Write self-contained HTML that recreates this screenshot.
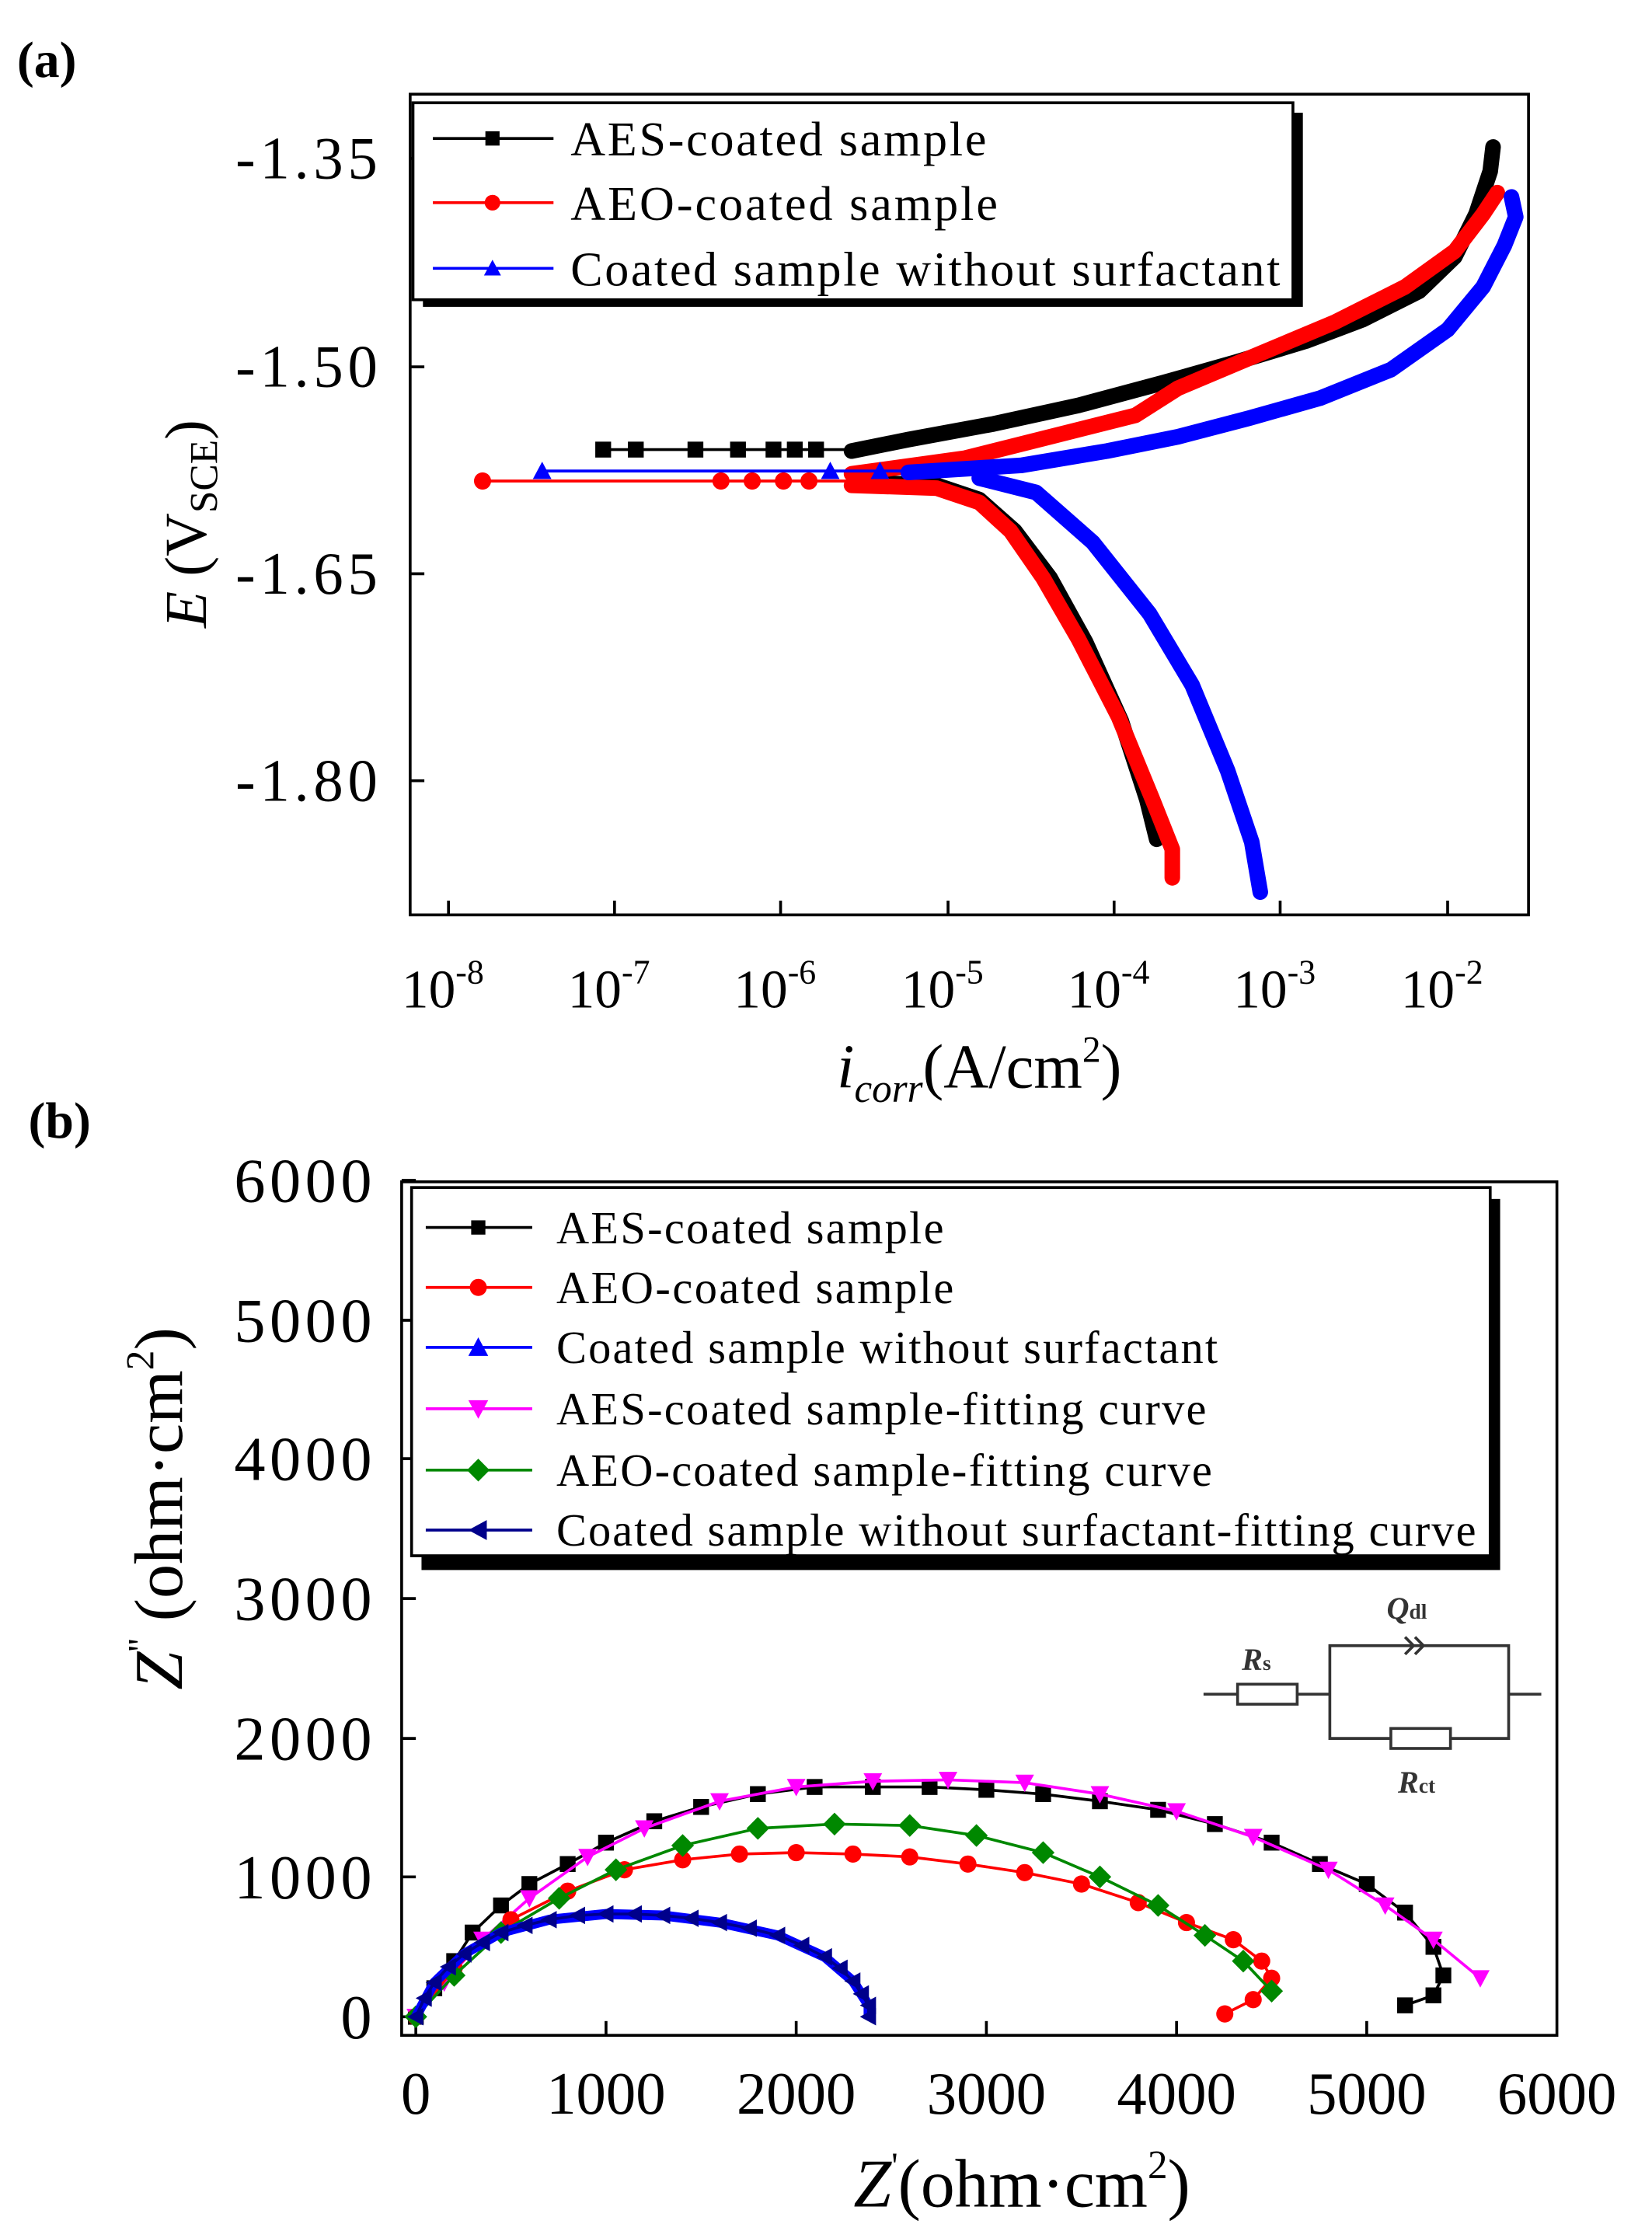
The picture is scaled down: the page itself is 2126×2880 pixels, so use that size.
<!DOCTYPE html>
<html><head><meta charset="utf-8"><style>html,body{margin:0;padding:0;background:#fff}svg{display:block}</style></head>
<body>
<svg width="2126" height="2880" viewBox="0 0 1164 1568" preserveAspectRatio="none" xmlns="http://www.w3.org/2000/svg" font-family="Liberation Serif, serif">
<defs>
<marker id="sq" viewBox="-7 -7 14 14" markerWidth="13" markerHeight="13" markerUnits="userSpaceOnUse"><rect x="-6" y="-6" width="12" height="12" fill="#000"/></marker>
<marker id="ci" viewBox="-7 -7 14 14" markerWidth="13" markerHeight="13" markerUnits="userSpaceOnUse"><circle r="6.5" fill="#f00"/></marker>
<marker id="tr" viewBox="-8 -8 16 16" markerWidth="15" markerHeight="15" markerUnits="userSpaceOnUse"><path d="M0,-7 L7,6 L-7,6Z" fill="#00f"/></marker>
<marker id="itr" viewBox="-8 -8 16 16" markerWidth="15" markerHeight="15" markerUnits="userSpaceOnUse"><path d="M0,7 L7,-6 L-7,-6Z" fill="#f0f"/></marker>
<marker id="di" viewBox="-8 -8 16 16" markerWidth="16" markerHeight="16" markerUnits="userSpaceOnUse"><path d="M0,-8 L8,0 L0,8 L-8,0Z" fill="#080"/></marker>
<marker id="lt" viewBox="-8 -8 16 16" markerWidth="14" markerHeight="14" markerUnits="userSpaceOnUse"><path d="M-7,0 L6,-7 L6,7Z" fill="#00008b"/></marker>
</defs>

<!-- Panel a -->
<text x="12" y="54" font-size="36" font-weight="bold">(a)</text>
<rect x="289" y="66" width="788" height="575" fill="none" stroke="#000" stroke-width="2"/>
<g stroke="#000" stroke-width="2">
<line x1="289" y1="111" x2="299" y2="111"/><line x1="289" y1="257" x2="299" y2="257"/><line x1="289" y1="402" x2="299" y2="402"/><line x1="289" y1="547" x2="299" y2="547"/>
<line x1="316" y1="641" x2="316" y2="631"/><line x1="433" y1="641" x2="433" y2="631"/><line x1="550" y1="641" x2="550" y2="631"/><line x1="668" y1="641" x2="668" y2="631"/><line x1="785" y1="641" x2="785" y2="631"/><line x1="902" y1="641" x2="902" y2="631"/><line x1="1020" y1="641" x2="1020" y2="631"/>
</g>
<g font-size="42" text-anchor="end">
<text x="266" y="125" textLength="100">-1.35</text><text x="266" y="271" textLength="100">-1.50</text><text x="266" y="416" textLength="100">-1.65</text><text x="266" y="561" textLength="100">-1.80</text>
</g>
<g font-size="38" text-anchor="middle">
<text x="312" y="706">10<tspan font-size="24" dy="-17">-8</tspan></text>
<text x="429" y="706">10<tspan font-size="24" dy="-17">-7</tspan></text>
<text x="546" y="706">10<tspan font-size="24" dy="-17">-6</tspan></text>
<text x="664" y="706">10<tspan font-size="24" dy="-17">-5</tspan></text>
<text x="781" y="706">10<tspan font-size="24" dy="-17">-4</tspan></text>
<text x="898" y="706">10<tspan font-size="24" dy="-17">-3</tspan></text>
<text x="1016" y="706">10<tspan font-size="24" dy="-17">-2</tspan></text>
</g>
<text x="690" y="762" font-size="44" text-anchor="middle"><tspan font-style="italic">i</tspan><tspan font-style="italic" font-size="28" dy="10">corr</tspan><tspan dy="-10">(A/cm</tspan><tspan font-size="26" dy="-18">2</tspan><tspan dy="18">)</tspan></text>
<text transform="translate(145,367) rotate(-90)" font-size="42" text-anchor="middle"><tspan font-style="italic">E</tspan> (V<tspan font-size="28" dy="8">SCE</tspan><tspan dy="-8">)</tspan></text>

<!-- curves a -->
<g fill="none" stroke-linejoin="round" stroke-linecap="round">
<polyline stroke="#000" stroke-width="11" points="600,316 640,308 700,297 760,284 820,268 870,254 920,239 960,224 1000,204 1025,180 1040,150 1050,120 1052,103"/>
<polyline stroke="#000" stroke-width="11" points="610,338 660,340 690,350 715,372 740,405 765,450 790,505 808,560 815,588"/>
<polyline stroke="#000" stroke-width="2" points="425,315 610,315"/>
<polyline stroke="#f00" stroke-width="11" points="600,332 680,321 740,306 800,291 830,272 880,251 940,226 990,201 1025,176 1045,150 1055,135"/>
<polyline stroke="#f00" stroke-width="11" points="600,340 660,342 690,352 712,372 735,405 760,448 788,502 812,560 826,595 826,615"/>
<polyline stroke="#f00" stroke-width="2" points="340,337 600,337"/>
<polyline stroke="#00f" stroke-width="11" points="640,331 720,326 780,316 830,306 880,293 930,279 980,259 1020,231 1045,201 1060,172 1068,152 1065,138"/>
<polyline stroke="#00f" stroke-width="11" points="690,335 730,345 770,380 810,430 840,480 865,540 882,590 888,625"/>
<polyline stroke="#00f" stroke-width="2" points="382,330 660,330"/>
</g>
<polyline fill="none" stroke="none" marker-mid="url(#sq)" marker-start="url(#sq)" points="425,315 448,315 490,315 520,315 545,315 560,315 575,315 590,315"/>
<polyline fill="none" stroke="none" marker-mid="url(#ci)" marker-start="url(#ci)" points="340,337 508,337 530,337 552,337 570,337 588,337"/>
<polyline fill="none" stroke="none" marker-mid="url(#tr)" marker-start="url(#tr)" points="382,330 585,330 620,330 640,330"/>

<!-- legend a -->
<rect x="298" y="79" width="620" height="136" fill="#000"/>
<rect x="291" y="72" width="620" height="138" fill="#fff" stroke="#000" stroke-width="2"/>
<line x1="305" y1="97" x2="390" y2="97" stroke="#000" stroke-width="2"/><rect x="342" y="92" width="10" height="10"/>
<line x1="305" y1="142" x2="390" y2="142" stroke="#f00" stroke-width="2"/><circle cx="347" cy="142" r="5.5" fill="#f00"/>
<line x1="305" y1="188" x2="390" y2="188" stroke="#00f" stroke-width="2"/><path d="M347,182 L353,193 L341,193Z" fill="#00f"/>
<g font-size="34"><text x="402" y="109" textLength="293">AES-coated sample</text><text x="402" y="154" textLength="301">AEO-coated sample</text><text x="402" y="200" textLength="500">Coated sample without surfactant</text></g>

<!-- Panel b -->
<text x="20" y="797" font-size="36" font-weight="bold">(b)</text>
<rect x="283" y="828" width="814" height="598" fill="none" stroke="#000" stroke-width="2"/>
<g stroke="#000" stroke-width="2">
<line x1="283" y1="827" x2="293" y2="827"/><line x1="283" y1="925" x2="293" y2="925"/><line x1="283" y1="1022" x2="293" y2="1022"/><line x1="283" y1="1120" x2="293" y2="1120"/><line x1="283" y1="1218" x2="293" y2="1218"/><line x1="283" y1="1315" x2="293" y2="1315"/><line x1="283" y1="1413" x2="293" y2="1413"/>
<line x1="293" y1="1426" x2="293" y2="1416"/><line x1="427" y1="1426" x2="427" y2="1416"/><line x1="561" y1="1426" x2="561" y2="1416"/><line x1="695" y1="1426" x2="695" y2="1416"/><line x1="829" y1="1426" x2="829" y2="1416"/><line x1="963" y1="1426" x2="963" y2="1416"/>
</g>
<g font-size="44" text-anchor="end">
<text x="262" y="842" textLength="97">6000</text><text x="262" y="940" textLength="97">5000</text><text x="262" y="1037" textLength="97">4000</text><text x="262" y="1135" textLength="97">3000</text><text x="262" y="1233" textLength="97">2000</text><text x="262" y="1330" textLength="97">1000</text><text x="262" y="1428">0</text>
</g>
<g font-size="42" text-anchor="middle">
<text x="293" y="1481">0</text><text x="427" y="1481">1000</text><text x="561" y="1481">2000</text><text x="695" y="1481">3000</text><text x="829" y="1481">4000</text><text x="963" y="1481">5000</text><text x="1097" y="1481">6000</text>
</g>
<text x="720" y="1546" font-size="48" text-anchor="middle"><tspan font-style="italic">Z</tspan><tspan font-size="26" dy="-20">'</tspan><tspan dy="20">(ohm·cm</tspan><tspan font-size="28" dy="-20">2</tspan><tspan dy="20">)</tspan></text>
<text transform="translate(128,1057) rotate(-90)" font-size="48" text-anchor="middle"><tspan font-style="italic">Z</tspan><tspan font-size="26" dy="-20">''</tspan><tspan dy="20"> (ohm·cm</tspan><tspan font-size="28" dy="-20">2</tspan><tspan dy="20">)</tspan></text>

<g fill="none" stroke-width="2" stroke-linejoin="round">
<polyline stroke="#000" marker-start="url(#sq)" marker-mid="url(#sq)" marker-end="url(#sq)" points="293,1413 306,1393 320,1374 333,1354 353,1335 373,1320 400,1306 427,1291 461,1276 494,1266 534,1257 574,1252 615,1252 655,1252 695,1254 735,1257 775,1262 816,1268 856,1278 896,1291 930,1306 963,1320 990,1340 1010,1364 1017,1384 1010,1398 990,1405"/>
<polyline stroke="#f0f" marker-start="url(#itr)" marker-mid="url(#itr)" marker-end="url(#itr)" points="293,1413 313,1389 340,1359 373,1330 414,1301 454,1281 507,1262 561,1252 615,1248 668,1247 722,1249 775,1257 829,1269 883,1287 936,1310 976,1335 1010,1359 1043,1386"/>
<polyline stroke="#f00" marker-start="url(#ci)" marker-mid="url(#ci)" marker-end="url(#ci)" points="293,1413 320,1379 360,1345 400,1325 440,1310 481,1303 521,1299 561,1298 601,1299 641,1301 682,1306 722,1312 762,1320 802,1333 836,1347 869,1359 889,1374 896,1386 883,1401 863,1411"/>
<polyline stroke="#080" marker-start="url(#di)" marker-mid="url(#di)" marker-end="url(#di)" points="293,1413 320,1384 353,1354 394,1330 434,1310 481,1293 534,1281 588,1278 641,1279 688,1286 735,1298 775,1315 816,1335 849,1356 876,1374 896,1395"/>
<polyline stroke="#00f" stroke-width="7" points="293,1413 306,1389 327,1369 353,1354 387,1345 427,1341 467,1342 507,1347 548,1356 581,1371 601,1388 612,1405 612,1413"/>
<polyline stroke="#00008b" stroke-width="2" marker-start="url(#lt)" marker-mid="url(#lt)" marker-end="url(#lt)" points="293,1413 299,1400 306,1389 316,1378 327,1369 340,1361 353,1354 370,1349 387,1345 407,1342 427,1341 447,1341 467,1342 487,1344 507,1347 528,1351 548,1356 565,1363 581,1371 592,1379 601,1388 607,1397 612,1405 612,1413"/>
</g>

<!-- legend b -->
<rect x="297" y="840" width="760" height="260" fill="#000"/>
<rect x="290" y="832" width="760" height="258" fill="#fff" stroke="#000" stroke-width="2"/>
<g stroke-width="2">
<line x1="300" y1="860" x2="375" y2="860" stroke="#000"/><line x1="300" y1="902" x2="375" y2="902" stroke="#f00"/><line x1="300" y1="944" x2="375" y2="944" stroke="#00f"/><line x1="300" y1="987" x2="375" y2="987" stroke="#f0f"/><line x1="300" y1="1030" x2="375" y2="1030" stroke="#080"/><line x1="300" y1="1072" x2="375" y2="1072" stroke="#00008b"/>
</g>
<rect x="332" y="855" width="10" height="10"/><circle cx="337" cy="902" r="6" fill="#f00"/><path d="M337,937 L344,950 L330,950Z" fill="#00f"/><path d="M337,994 L344,981 L330,981Z" fill="#f0f"/><path d="M337,1022 L345,1030 L337,1038 L329,1030Z" fill="#080"/><path d="M330,1072 L343,1065 L343,1079Z" fill="#00008b"/>
<g font-size="32"><text x="392" y="871" textLength="273">AES-coated sample</text><text x="392" y="913" textLength="280">AEO-coated sample</text><text x="392" y="955" textLength="466">Coated sample without surfactant</text><text x="392" y="998" textLength="458">AES-coated sample-fitting curve</text><text x="392" y="1041" textLength="462">AEO-coated sample-fitting curve</text><text x="392" y="1083" textLength="648">Coated sample without surfactant-fitting curve</text></g>

<!-- circuit -->
<g stroke="#333" stroke-width="2" fill="none">
<line x1="848" y1="1187" x2="872" y2="1187"/><rect x="872" y="1180" width="42" height="14"/><line x1="914" y1="1187" x2="937" y2="1187"/>
<polyline points="937,1187 937,1153 1063,1153 1063,1218 937,1218 937,1187"/><line x1="1063" y1="1187" x2="1086" y2="1187"/>
<rect x="980" y="1211" width="42" height="14" fill="#fff"/>
<polyline points="990,1147 996,1153 990,1159"/><polyline points="997,1147 1003,1153 997,1159"/>
</g>
<g font-size="22" font-weight="bold" font-style="italic" fill="#333">
<text x="875" y="1170">R<tspan font-size="15" font-style="normal">s</tspan></text>
<text x="977" y="1134">Q<tspan font-size="15" font-style="normal">dl</tspan></text>
<text x="985" y="1256">R<tspan font-size="15" font-style="normal">ct</tspan></text>
</g>
</svg>
</body></html>
